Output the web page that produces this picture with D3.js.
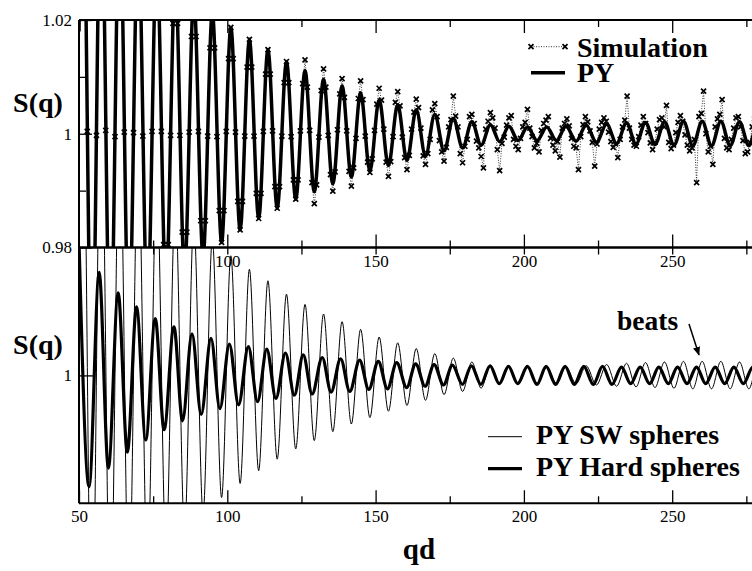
<!DOCTYPE html>
<html>
<head>
<meta charset="utf-8">
<script src="https://cdn.jsdelivr.net/npm/d3@7"></script>
<style>
  body { margin: 0; background: #fff; }
</style>
</head>
<body>
<div id="chart"></div>
<script>
// PY square-well spheres (top panel "PY" and bottom thin line): extrema
var pyQ = [50.0, 51.2, 54.325, 57.45, 60.575, 63.7, 66.825, 69.95, 73.075, 76.2, 79.325, 82.45, 85.575,
  88.7, 91.825, 94.95, 98.075, 101.2, 104.325, 107.45, 110.575, 113.7, 116.825, 119.95, 123.075,
  126.2, 129.325, 132.45, 135.575, 138.7, 141.825, 144.95, 148.075, 151.2, 154.325, 157.45, 160.575,
  163.7, 166.825, 169.95, 173.075, 176.2, 179.325, 182.45, 185.575, 188.7, 191.825, 194.95, 198.075,
  201.2, 204.45, 207.7, 210.95, 214.2, 217.6, 221.0, 224.45, 227.9, 231.25, 234.6, 237.8, 241.0,
  244.2, 247.4, 250.6, 253.8, 256.95, 260.1, 263.25, 266.4, 269.55, 272.7, 275.85, 279.0, 282.1];
var pyS = [1.018, 1.052, 0.955, 1.0458, 0.9602, 1.0403, 0.9648, 1.0355, 0.9688, 1.0312, 0.9724, 1.0275, 0.9756,
  1.0242, 0.9784, 1.0213, 0.9809, 1.0187, 0.9831, 1.0166, 0.9851, 1.0148, 0.9869, 1.0127, 0.9885,
  1.0111, 0.9898, 1.0096, 0.9912, 1.0084, 0.9924, 1.0072, 0.9934, 1.0060, 0.9944, 1.0051, 0.9953,
  1.0042, 0.9961, 1.0034, 0.9970, 1.0027, 0.9975, 1.0021, 0.9980, 1.0016, 0.9986, 1.0013, 0.9988,
  1.0012, 0.9988, 1.0012, 0.9988, 1.0013, 0.9987, 1.0015, 0.9985, 1.0017, 0.9983, 1.0019, 0.9982, 1.0020,
  0.9981, 1.0021, 0.9980, 1.0022, 0.9979, 1.0022, 0.9979, 1.0022, 0.9979, 1.0021, 0.9979, 1.0021, 0.9979];

// PY hard spheres (bottom thick line)
var hsQ = [50.0, 53.4, 56.8, 59.9, 63.2, 66.3, 69.4, 72.5, 75.7, 78.7, 82.0, 84.9, 88.1, 91.2, 94.5, 97.5,
  100.7, 103.8, 107.1, 110.2, 113.3, 116.4, 119.6, 122.6, 125.6, 128.6, 132.0, 135.0, 138.2, 141.3,
  144.6, 147.7, 150.9, 154.0, 157.1, 160.5, 163.5, 166.7, 169.7, 172.9, 175.9, 179.3, 182.3, 185.5,
  188.6, 191.7, 194.8, 197.9, 201.2, 204.4, 207.5, 210.7, 213.9, 217.0, 220.2, 223.4, 226.5, 229.7,
  232.9, 236.0, 239.2, 242.4, 245.5, 248.7, 251.8, 255.0, 258.2, 261.3, 264.5, 267.7, 270.8, 274.0,
  277.2, 280.3];
var hsS = [1.021, 0.9826, 1.0161, 0.9855, 1.0129, 0.9880, 1.0107, 0.9899, 1.0089, 0.9915, 1.0076, 0.9929,
  1.0065, 0.9939, 1.0058, 0.9948, 1.0049, 0.9954, 1.0045, 0.9959, 1.0041, 0.9964, 1.0035, 0.9969,
  1.0032, 0.9971, 1.0028, 0.9974, 1.0026, 0.9975, 1.0024, 0.9978, 1.0022, 0.9979, 1.0020, 0.9981,
  1.0018, 0.9983, 1.0017, 0.9985, 1.0016, 0.9986, 1.0015, 0.9986, 1.0015, 0.9987, 1.0014, 0.9987,
  1.0014, 0.9986, 1.0014, 0.9986, 1.0014, 0.9986, 1.0014, 0.9986, 1.0014, 0.9986, 1.0013, 0.9987,
  1.0013, 0.9987, 1.0013, 0.9987, 1.0013, 0.9987, 1.0013, 0.9987, 1.0013, 0.9987, 1.0013, 0.9987,
  1.0013, 0.9987];

// Simulation: S(q) on a regular q grid
var simQ0 = 50.42, simDq = 0.78125;
var simS = [
  1.0368, 1.0520, 1.0368, 1.0004, 0.9682, 0.9550, 0.9682, 0.9997,
  1.0324, 1.0458, 1.0324, 1.0006, 0.9719, 0.9602, 0.9719, 0.9995,
  1.0285, 1.0403, 1.0285, 1.0003, 0.9751, 0.9648, 0.9751, 1.0002,
  1.0251, 1.0355, 1.0251, 0.9996, 0.9779, 0.9688, 0.9779, 1.0004,
  1.0221, 1.0312, 1.0221, 1.0004, 0.9805, 0.9724, 0.9805, 0.9997,
  1.0194, 1.0275, 1.0194, 0.9997, 0.9827, 0.9756, 0.9827, 1.0003,
  1.0171, 1.0242, 1.0171, 1.0004, 0.9847, 0.9784, 0.9847, 0.9996,
  1.0151, 1.0213, 1.0151, 0.9995, 0.9865, 0.9809, 0.9865, 1.0004,
  1.0132, 1.0187, 1.0132, 1.0003, 0.9881, 0.9831, 0.9881, 0.9996,
  1.0117, 1.0166, 1.0117, 0.9996, 0.9895, 0.9851, 0.9895, 1.0004,
  1.0105, 1.0148, 1.0105, 1.0005, 0.9907, 0.9869, 0.9907, 0.9996,
  1.0090, 1.0127, 1.0090, 0.9995, 0.9919, 0.9885, 0.9919, 1.0005,
  1.0088, 1.0130, 1.0082, 1.0006, 0.9914, 0.9877, 0.9910, 0.9994,
  1.0076, 1.0114, 1.0082, 0.9997, 0.9928, 0.9899, 0.9933, 1.0007,
  1.0070, 1.0097, 1.0064, 1.0005, 0.9934, 0.9908, 0.9940, 0.9992,
  1.0062, 1.0093, 1.0060, 0.9996, 0.9950, 0.9932, 0.9956, 1.0006,
  1.0052, 1.0080, 1.0059, 1.0008, 0.9950, 0.9925, 0.9951, 0.9995,
  1.0055, 1.0074, 1.0049, 0.9994, 0.9958, 0.9937, 0.9962, 1.0008,
  1.0038, 1.0061, 1.0046, 1.0010, 0.9961, 0.9946, 0.9965, 0.9990,
  1.0042, 1.0053, 1.0030, 0.9988, 0.9968, 0.9952, 0.9976, 1.0012,
  1.0025, 1.0066, 1.0031, 1.0012, 0.9965, 0.9949, 0.9978, 0.9990,
  1.0030, 1.0034, 1.0018, 0.9987, 0.9975, 0.9960, 0.9940, 1.0008,
  1.0022, 1.0037, 1.0028, 1.0010, 0.9972, 0.9935, 0.9983, 0.9994,
  1.0015, 1.0028, 1.0032, 0.9990, 0.9978, 0.9972, 0.9992, 1.0012,
  1.0020, 1.0043, 1.0010, 0.9995, 0.9975, 0.9983, 0.9968, 1.0006,
  1.0018, 1.0024, 1.0030, 0.9992, 0.9980, 0.9970, 0.9986, 0.9959,
  1.0010, 1.0018, 1.0026, 1.0014, 0.9992, 0.9978, 0.9975, 0.9937,
  0.9995, 1.0016, 1.0030, 1.0021, 1.0005, 0.9985, 0.9943, 0.9982,
  1.0008, 1.0020, 1.0028, 1.0022, 1.0003, 0.9986, 0.9976, 0.9982,
  0.9958, 0.9990, 1.0012, 1.0024, 1.0066, 1.0010, 0.9990, 0.9980,
  0.9978, 0.9995, 1.0015, 1.0030, 1.0018, 1.0002, 0.9984, 0.9972,
  0.9985, 1.0008, 1.0025, 1.0028, 1.0012, 1.0050, 0.9985, 0.9974,
  0.9980, 1.0002, 1.0020, 1.0032, 1.0022, 0.9998, 0.9980, 0.9970,
  0.9975, 0.9990, 0.9914, 1.0030, 1.0036, 1.0075, 1.0000, 0.9968,
  0.9978, 0.9946, 1.0012, 1.0026, 1.0034, 1.0060, 0.9992, 0.9975,
  0.9972, 0.9990, 1.0010, 1.0028, 1.0030, 1.0012, 0.9988, 0.9965,
  0.9968, 0.9985, 1.0012, 1.0026, 1.0020];

var xMajor = [50, 100, 150, 200, 250];
var xMinor = [75, 125, 175, 225, 275];
var yMajorTop = [0.98, 1, 1.02];
var yMinorTop = [0.99, 1.01];
var yMajorBottom = [1];

var W = 752, H = 571;
var left = 79, top1 = 20, mid = 247.5, bottom2 = 503.3;
var serif = "Liberation Serif, Times New Roman, DejaVu Serif, serif";

var svg = d3.select("#chart").append("svg")
  .attr("width", W).attr("height", H)
  .attr("font-family", serif);

var x = d3.scaleLinear().domain([50, 300]).range([left, left + 148.3 * 5]);
var yTop = d3.scaleLinear().domain([0.98, 1.02]).range([mid, top1]);
var yBot = d3.scaleLinear().domain([0.98, 1.02]).range([bottom2, mid]);

var defs = svg.append("defs");
defs.append("clipPath").attr("id", "clipTop").append("rect")
  .attr("x", left).attr("y", top1).attr("width", W - left).attr("height", mid - top1);
defs.append("clipPath").attr("id", "clipBot").append("rect")
  .attr("x", left).attr("y", mid).attr("width", W - left).attr("height", bottom2 - mid);

function pairs(qs, ss) { return qs.map(function(q, i) { return [q, ss[i]]; }); }

var pyData = pairs(pyQ, pyS);
var hsData = pairs(hsQ, hsS);
var simData = simS.map(function(s, i) { return [simQ0 + i * simDq, s]; });

var lineTop = d3.line().x(d => x(d[0])).y(d => yTop(d[1])).curve(d3.curveMonotoneX);
var lineBot = d3.line().x(d => x(d[0])).y(d => yBot(d[1])).curve(d3.curveMonotoneX);
var simLine = d3.line().x(d => x(d[0])).y(d => yTop(d[1]));

// ---------- top panel ----------
var gTop = svg.append("g").attr("clip-path", "url(#clipTop)");
gTop.append("path").datum(pyData)
  .attr("d", lineTop).attr("fill", "none").attr("stroke", "#000").attr("stroke-width", 3.5);
gTop.append("path").datum(simData)
  .attr("d", simLine).attr("fill", "none").attr("stroke", "#000")
  .attr("stroke-width", 0.8).attr("stroke-dasharray", "1,1.5");

var cross = "M-2.5,-2.5L2.5,2.5M-2.5,2.5L2.5,-2.5";
gTop.selectAll("path.sim").data(simData).enter().append("path")
  .attr("class", "sim")
  .attr("transform", d => "translate(" + x(d[0]) + "," + yTop(d[1]) + ")")
  .attr("d", cross).attr("stroke", "#000").attr("stroke-width", 1.7);

// ---------- bottom panel ----------
var gBot = svg.append("g").attr("clip-path", "url(#clipBot)");
gBot.append("path").datum(pyData)
  .attr("d", lineBot).attr("fill", "none").attr("stroke", "#000").attr("stroke-width", 1);
gBot.append("path").datum(hsData)
  .attr("d", lineBot).attr("fill", "none").attr("stroke", "#000").attr("stroke-width", 3.2);

// ---------- axes ----------
function clean(g) {
  g.select(".domain").remove();
  g.attr("font-family", serif).attr("font-size", 17);
  g.selectAll(".tick line").attr("stroke-width", 1.3);
}

// top panel, bottom edge: labels below the shared line
svg.append("g").attr("transform", "translate(0," + mid + ")")
  .call(d3.axisBottom(x).tickValues([100, 150, 200, 250]).tickSizeInner(-13).tickSizeOuter(0)
    .tickPadding(7).tickFormat(d3.format("d")))
  .call(clean);
svg.append("g").attr("transform", "translate(0," + mid + ")")
  .call(d3.axisBottom(x).tickValues(xMinor).tickSizeInner(-7).tickSizeOuter(0).tickFormat(""))
  .call(clean);
// top panel, top edge
svg.append("g").attr("transform", "translate(0," + top1 + ")")
  .call(d3.axisTop(x).tickValues(xMajor.slice(1)).tickSizeInner(-13).tickSizeOuter(0).tickFormat(""))
  .call(clean);
svg.append("g").attr("transform", "translate(0," + top1 + ")")
  .call(d3.axisTop(x).tickValues(xMinor).tickSizeInner(-7).tickSizeOuter(0).tickFormat(""))
  .call(clean);
// bottom panel, top edge
svg.append("g").attr("transform", "translate(0," + mid + ")")
  .call(d3.axisTop(x).tickValues(xMajor.slice(1).concat(xMinor)).tickSizeInner(-7).tickSizeOuter(0).tickFormat(""))
  .call(clean);
// bottom panel, bottom edge
svg.append("g").attr("transform", "translate(0," + bottom2 + ")")
  .call(d3.axisBottom(x).tickValues(xMajor).tickSizeInner(-13).tickSizeOuter(0)
    .tickPadding(7).tickFormat(d3.format("d")))
  .call(clean);
svg.append("g").attr("transform", "translate(0," + bottom2 + ")")
  .call(d3.axisBottom(x).tickValues(xMinor).tickSizeInner(-7).tickSizeOuter(0).tickFormat(""))
  .call(clean);
// y axes
svg.append("g").attr("transform", "translate(" + left + ",0)")
  .call(d3.axisLeft(yTop).tickValues(yMajorTop).tickSizeInner(-13).tickSizeOuter(0).tickPadding(7)
    .tickFormat(d => d === 1 ? "1" : d3.format(".2f")(d)))
  .call(clean);
svg.append("g").attr("transform", "translate(" + left + ",0)")
  .call(d3.axisLeft(yTop).tickValues(yMinorTop).tickSizeInner(-7).tickSizeOuter(0).tickFormat(""))
  .call(clean);
svg.append("g").attr("transform", "translate(" + left + ",0)")
  .call(d3.axisLeft(yBot).tickValues(yMajorBottom).tickSizeInner(-14).tickSizeOuter(0).tickPadding(7)
    .tickFormat(d3.format("d")))
  .call(clean);

// frames
var frame = svg.append("g").attr("stroke", "#000").attr("stroke-width", 2).attr("fill", "none");
frame.append("line").attr("x1", left).attr("x2", W).attr("y1", top1).attr("y2", top1);
frame.append("line").attr("x1", left).attr("x2", W).attr("y1", mid).attr("y2", mid).attr("stroke-width", 2.5);
frame.append("line").attr("x1", left).attr("x2", W).attr("y1", bottom2).attr("y2", bottom2);
frame.append("line").attr("x1", left).attr("x2", left).attr("y1", top1).attr("y2", bottom2);

// axis titles
svg.append("text").attr("x", 38).attr("y", 112).attr("text-anchor", "middle")
  .attr("font-size", 28).attr("font-weight", "bold").text("S(q)");
svg.append("text").attr("x", 38).attr("y", 354).attr("text-anchor", "middle")
  .attr("font-size", 28).attr("font-weight", "bold").text("S(q)");
svg.append("text").attr("x", 419).attr("y", 559).attr("text-anchor", "middle")
  .attr("font-size", 29).attr("font-weight", "bold").text("qd");

// legend, top panel
var legT = svg.append("g");
legT.append("line").attr("x1", 531).attr("x2", 565).attr("y1", 46.7).attr("y2", 46.7)
  .attr("stroke", "#000").attr("stroke-width", 0.8).attr("stroke-dasharray", "1,1.5");
[531, 565].forEach(function(px) {
  legT.append("path").attr("transform", "translate(" + px + ",46.7)")
    .attr("d", cross).attr("stroke", "#000").attr("stroke-width", 1.7);
});
legT.append("line").attr("x1", 531).attr("x2", 565).attr("y1", 72.7).attr("y2", 72.7)
  .attr("stroke", "#000").attr("stroke-width", 3.5);
legT.append("text").attr("x", 577).attr("y", 57).attr("font-size", 28).attr("font-weight", "bold").text("Simulation");
legT.append("text").attr("x", 577).attr("y", 81.5).attr("font-size", 28).attr("font-weight", "bold").text("PY");

// legend, bottom panel
var legB = svg.append("g");
legB.append("line").attr("x1", 488).attr("x2", 522).attr("y1", 436.7).attr("y2", 436.7)
  .attr("stroke", "#000").attr("stroke-width", 1);
legB.append("line").attr("x1", 488).attr("x2", 522).attr("y1", 468.7).attr("y2", 468.7)
  .attr("stroke", "#000").attr("stroke-width", 3.2);
legB.append("text").attr("x", 536).attr("y", 444).attr("font-size", 28).attr("font-weight", "bold").text("PY SW spheres");
legB.append("text").attr("x", 536).attr("y", 476).attr("font-size", 28).attr("font-weight", "bold").text("PY Hard spheres");

// annotation
defs.append("marker").attr("id", "arrow").attr("viewBox", "0 0 10 10")
  .attr("refX", 9).attr("refY", 5).attr("markerWidth", 9).attr("markerHeight", 9)
  .attr("orient", "auto").attr("markerUnits", "userSpaceOnUse")
  .append("path").attr("d", "M0,1L10,5L0,9Z").attr("fill", "#000");
svg.append("text").attr("x", 617).attr("y", 329.5).attr("font-size", 27.5).attr("font-weight", "bold").text("beats");
svg.append("line").attr("x1", 689).attr("y1", 324).attr("x2", 699).attr("y2", 355)
  .attr("stroke", "#000").attr("stroke-width", 1.5).attr("marker-end", "url(#arrow)");
</script>
</body>
</html>
